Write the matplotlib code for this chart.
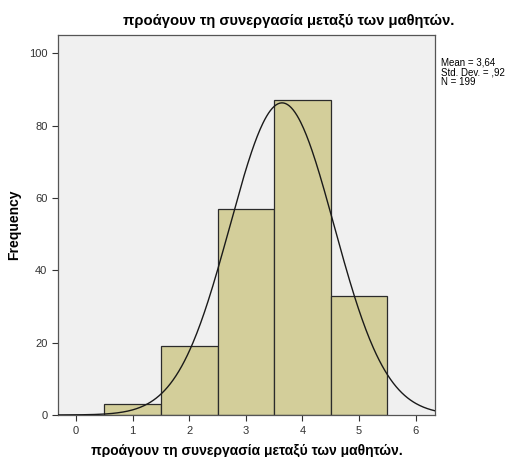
import numpy as np
import matplotlib
matplotlib.use("Agg")
import matplotlib.pyplot as plt

plt.rcParams['font.family'] = ['Liberation Sans', 'DejaVu Sans']

# Histogram data
bin_centers = [1, 2, 3, 4, 5]
counts = [3, 19, 57, 87, 33]
mean_val = 3.64
std_val = 0.92
n_total = 199
title = "προάγουν τη συνεργασία μεταξύ των μαθητών."

fig = plt.figure(figsize=(5.08, 4.57), dpi=100)
fig.patch.set_facecolor("white")
ax = fig.add_axes([0.114, 0.092, 0.742, 0.831])
ax.set_facecolor("#F0F0F0")

ax.bar(bin_centers, counts, width=1.0, color="#D3CE9A", edgecolor="#2b2b2b",
       linewidth=0.9, zorder=2)

xs = np.linspace(-0.32, 6.34, 400)
pdf = n_total * 1.0 / (std_val * np.sqrt(2 * np.pi)) * np.exp(-0.5 * ((xs - mean_val) / std_val) ** 2)
ax.plot(xs, pdf, color="#1a1a1a", linewidth=1.0, zorder=3)

ax.set_xlim(-0.32, 6.34)
ax.set_ylim(0, 105)
ax.set_xticks(range(0, 7))
ax.set_yticks(range(0, 101, 20))
ax.tick_params(axis='both', labelsize=8, colors="#333333", length=4, width=0.8)
ax.tick_params(axis='x', direction='out', pad=4)
for lab in ax.get_xticklabels() + ax.get_yticklabels():
    lab.set_color("#333333")
for s in ax.spines.values():
    s.set_color("#555555")
    s.set_linewidth(0.9)

ax.set_ylabel("Frequency", fontsize=10, fontweight="bold", labelpad=6)
ax.set_xlabel(title, fontsize=10, fontweight="bold", labelpad=6)
fig.text(0.569, 0.953, title, ha="center", va="center", fontsize=10.6, fontweight="bold")

fig.text(0.869, 0.875, "Mean = 3,64\nStd. Dev. = ,92\nN = 199", ha="left", va="top",
         fontsize=7, linespacing=1.0)

fig.savefig("out.png", dpi=100)
